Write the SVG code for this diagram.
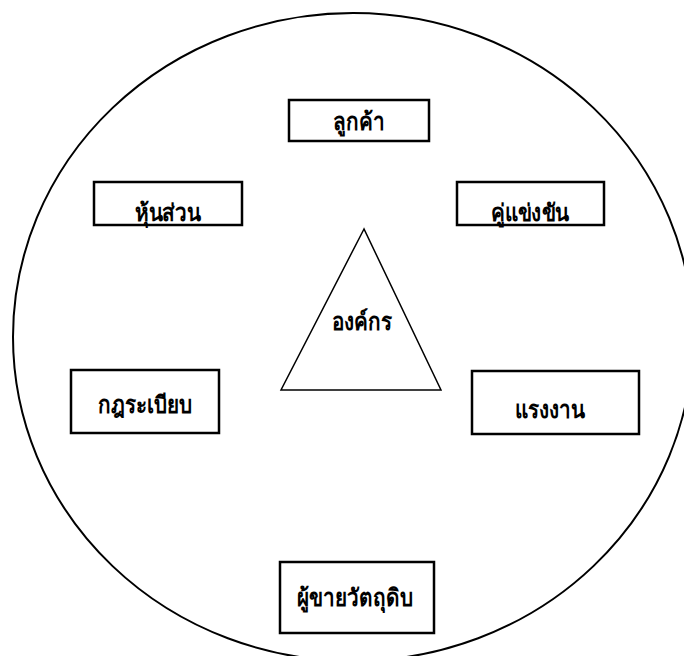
<svg xmlns="http://www.w3.org/2000/svg" width="684" height="656" viewBox="0 0 684 656">
<style>
.box{fill:#fff;stroke:#000;stroke-width:2.5}
.t{font-family:"Liberation Sans","Noto Sans",sans-serif;font-weight:bold;font-size:24px;fill:#000;text-anchor:middle;dominant-baseline:central}
</style>
<rect width="684" height="656" fill="#fff"/>
<g id="boundary"><ellipse cx="353" cy="337" rx="340" ry="324" fill="none" stroke="#000" stroke-width="2"/></g>
<g id="connectors"></g>
<g id="n-customer"><rect class="box" x="289" y="100" width="140" height="41"/><text class="t" transform="translate(359 122) scale(0.86 1)">ลูกค้า</text></g>
<g id="n-partner"><rect class="box" x="94" y="182" width="148" height="43"/><text class="t" transform="translate(168 213) scale(0.86 1)">หุ้นส่วน</text></g>
<g id="n-competitor"><rect class="box" x="457" y="182" width="147" height="43"/><text class="t" transform="translate(530 213) scale(0.86 1)">คู่แข่งขัน</text></g>
<g id="n-org"><polygon points="364,229 281,390 441,390" fill="#fff" stroke="#000" stroke-width="1.5"/><text class="t" transform="translate(362 322) scale(0.86 1)">องค์กร</text></g>
<g id="n-rules"><rect class="box" x="71" y="370" width="148" height="63"/><text class="t" transform="translate(145 405) scale(0.86 1)">กฎระเบียบ</text></g>
<g id="n-labor"><rect class="box" x="472" y="371" width="167" height="63"/><text class="t" transform="translate(550 410) scale(0.86 1)">แรงงาน</text></g>
<g id="n-supplier"><rect class="box" x="280" y="562" width="154" height="71"/><text class="t" transform="translate(355 598) scale(0.86 1)">ผู้ขายวัตถุดิบ</text></g>
</svg>
